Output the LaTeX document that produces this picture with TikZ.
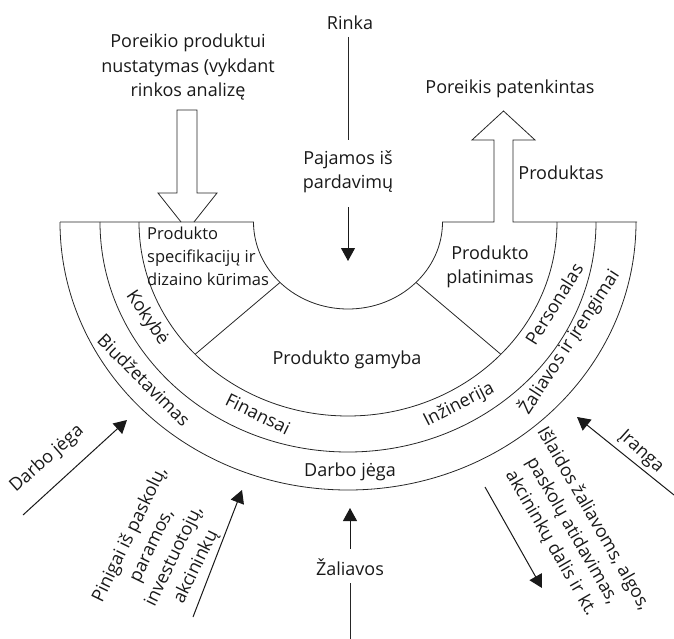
\documentclass[tikz,border=0pt]{standalone}
\usepackage{fontspec}
\setmainfont{Open Sans}
\usetikzlibrary{arrows.meta,calc}
\begin{document}
\begin{tikzpicture}[x=1pt,y=1pt,
  every node/.style={font=\fontsize{18}{24.5}\selectfont, inner sep=0pt, text=black!90},
  small/.style={font=\fontsize{16.5}{23}\selectfont},
  edge/.style={line width=0.8pt, draw=black!85},
  flow/.style={line width=1pt, draw=black!90, -{Triangle[width=14pt,length=13pt]}},
  block/.style={align=center},
]
\useasboundingbox (0,0) rectangle (674,-639);
\coordinate (c) at (348,-222);

% core outline: top edge, central bowl and the outgoing product arrow
\draw[edge] (60,-222) -- (253.5,-222)
  arc[start angle=180,end angle=360,x radius=94.5,y radius=87]
  -- (494,-222) -- (494,-140) -- (472,-140) -- (503.5,-111) -- (535,-140)
  -- (513,-140) -- (513,-222) -- (637,-222);

% incoming need arrow
\draw[edge] (181,-222) -- (158,-193) -- (177,-193) -- (177,-110) -- (197,-110)
  -- (197,-193) -- (217,-193) -- (194,-222);

% rings
\foreach \rx/\ry in {288/268, 248/230, 209/194}
  \draw[edge] (348-\rx,-222) arc[start angle=180,end angle=360,x radius=\rx,y radius=\ry];

% dividers of the inner ring
\draw[edge] ($(c)+(224:94.5 and 87)$) -- ($(c)+(223:209 and 194)$);
\draw[edge] ($(c)+(-44:94.5 and 87)$) -- ($(c)+(-43:209 and 194)$);

% texts above the core
\node (rinka) at (350,-23) {Rinka};
\node[block] (poreikio) at (188,-67) {Poreikio produktui\\nustatymas (vykdant\\rinkos analizę};
\node (patenk) at (510,-89) {Poreikis patenkintas};
\node (produktas) at (561,-173) {Produktas};
\node[block] (pajamos) at (348,-172) {Pajamos iš\\pardavimų};

% inner ring
\node[small, align=left, anchor=west] (spec) at (147,-256) {Produkto\\specifikacijų ir\\dizaino kūrimas};
\node[block] (platin) at (490,-267) {Produkto\\platinimas};
\node (gamyba) at (347,-360) {Produkto gamyba};

% middle ring
\node[rotate=-56] (kokybe) at (147,-318) {Kokybė};
\node[rotate=-26] (finansai) at (258,-414) {Finansai};
\node[rotate=27] (inzin) at (459,-405) {Inžinerija};
\node[rotate=58] (personalas) at (554,-304) {Personalas};

% outer ring
\node[rotate=-45] (biudz) at (144,-380) {Biudžetavimas};
\node (darbo) at (350,-472) {Darbo jėga};
\node[rotate=57] (zalir) at (569,-342) {Žaliavos ir įrengimai};

% resources and flows around the rings
\node[rotate=41.5] (darbol) at (47,-459) {Darbo jėga};
\node[block, rotate=64] (pinigai) at (163,-551) {Pinigai iš paskolų,\\paramos,\\investuotojų,\\akcininkų};
\node (zaliavos) at (350,-567) {Žaliavos};
\node[block, rotate=-60] (islaidos) at (572,-531) {Išlaidos žaliavoms, algos,\\paskolų atidavimas,\\akcininkų dalis ir kt.};
\node[rotate=-42] (iranga) at (641,-452) {Įranga};

% connector end points
\coordinate (r1) at (348,-37);  \coordinate (r2) at (348,-140);
\coordinate (r3) at (348,-207); \coordinate (r4) at (348,-261);
\coordinate (z0) at (350,-639); \coordinate (z1) at (350,-583);
\coordinate (z2) at (350,-549); \coordinate (z3) at (350,-508);
\coordinate (d1) at (23,-515);  \coordinate (d2) at (127,-420);
\coordinate (p1) at (193,-617); \coordinate (p2) at (242,-490);
\coordinate (i1) at (485,-487); \coordinate (i2) at (542,-588);
\coordinate (q1) at (674,-495); \coordinate (q2) at (577,-417);

\draw[edge] (r1) -- (r2);
\draw[flow] (r3) -- (r4);
\draw[edge, line width=1pt] (z0) -- (z1);
\draw[flow] (z2) -- (z3);
\draw[flow] (d1) -- (d2);
\draw[flow] (p1) -- (p2);
\draw[flow] (i1) -- (i2);
\draw[flow] (q1) -- (q2);
\end{tikzpicture}
\end{document}
